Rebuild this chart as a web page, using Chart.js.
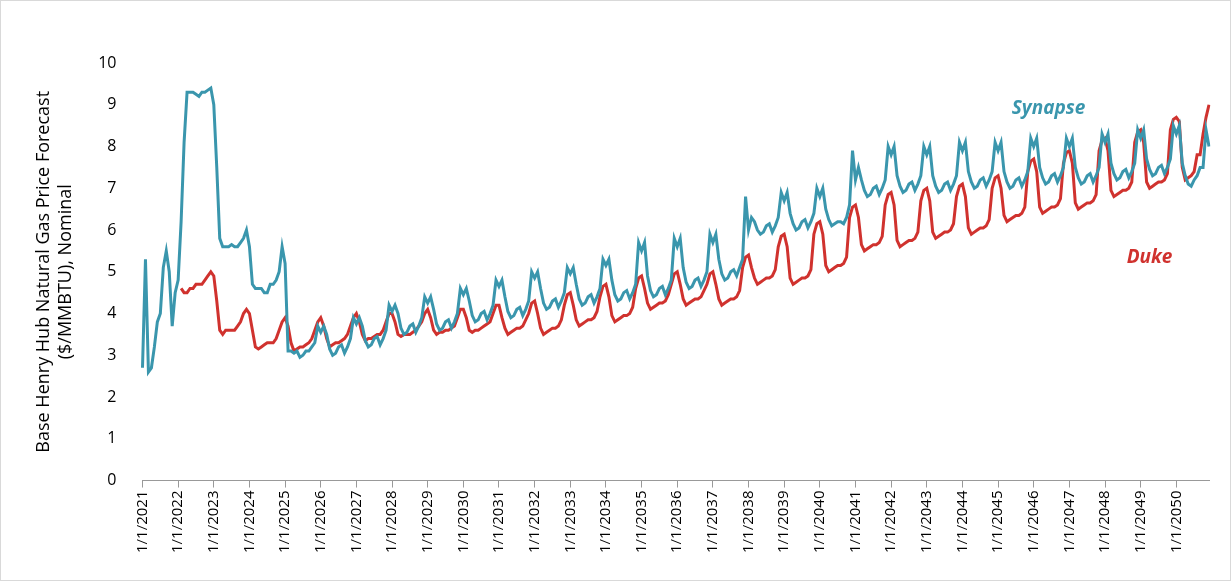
<!DOCTYPE html>
<html>
<head>
<meta charset="utf-8">
<script src="https://cdn.jsdelivr.net/npm/chart.js@4"></script>
<style>
  body { margin: 0; background: #fff; }
  #wrap { width: 1229px; height: 579px; border: 1px solid #d9d9d9; }
</style>
</head>
<body>
<div id="wrap"><canvas id="chart"></canvas></div>
<script>
// monthly values, Jan 2021 .. Dec 2050
const startYear = 2021;
const endYear = 2050;

const synapse = [
  2.7,5.3,2.6,2.7,3.2,3.8,4.0,5.1,5.5,5.0,3.7,4.5,
  4.8,6.2,8.1,9.3,9.3,9.3,9.25,9.2,9.3,9.3,9.35,9.4,
  9.0,7.5,5.8,5.6,5.6,5.6,5.65,5.6,5.6,5.7,5.8,6.0,
  5.6,4.7,4.6,4.6,4.6,4.5,4.5,4.7,4.7,4.8,5.0,5.6,
  5.2,3.1,3.1,3.05,3.1,2.95,3.0,3.1,3.1,3.2,3.3,3.7,
  3.55,3.7,3.5,3.15,3.0,3.05,3.2,3.25,3.05,3.2,3.4,3.9,
  3.75,3.9,3.7,3.35,3.2,3.25,3.4,3.45,3.25,3.4,3.6,4.2,
  4.05,4.2,4.0,3.65,3.5,3.55,3.7,3.75,3.55,3.7,3.9,4.4,
  4.25,4.4,4.1,3.75,3.6,3.65,3.8,3.85,3.65,3.8,4.0,4.6,
  4.45,4.6,4.3,3.95,3.8,3.85,4.0,4.05,3.85,4.0,4.2,4.8,
  4.65,4.8,4.4,4.05,3.9,3.95,4.1,4.15,3.95,4.1,4.3,5.0,
  4.85,5.0,4.6,4.25,4.1,4.15,4.3,4.35,4.15,4.3,4.5,5.1,
  4.95,5.1,4.7,4.35,4.2,4.25,4.4,4.45,4.25,4.4,4.6,5.3,
  5.15,5.3,4.8,4.45,4.3,4.35,4.5,4.55,4.35,4.5,4.7,5.7,
  5.5,5.7,4.9,4.55,4.4,4.45,4.6,4.65,4.45,4.6,4.8,5.8,
  5.6,5.8,5.1,4.75,4.6,4.65,4.8,4.85,4.65,4.8,5.0,5.9,
  5.7,5.9,5.3,4.95,4.8,4.85,5.0,5.05,4.9,5.1,5.3,6.8,
  6.0,6.3,6.2,6.0,5.9,5.95,6.1,6.15,5.95,6.1,6.3,6.9,
  6.7,6.9,6.4,6.15,6.0,6.05,6.2,6.25,6.05,6.2,6.4,7.0,
  6.8,7.0,6.5,6.25,6.1,6.15,6.2,6.2,6.15,6.3,6.6,7.9,
  7.2,7.5,7.2,6.95,6.8,6.85,7.0,7.05,6.85,7.0,7.2,8.0,
  7.8,8.0,7.3,7.05,6.9,6.95,7.1,7.15,6.95,7.1,7.3,8.0,
  7.8,8.0,7.3,7.05,6.9,6.95,7.1,7.15,6.95,7.1,7.3,8.1,
  7.9,8.1,7.4,7.15,7.0,7.05,7.2,7.25,7.05,7.2,7.4,8.1,
  7.9,8.1,7.4,7.15,7.0,7.05,7.2,7.25,7.05,7.2,7.4,8.2,
  8.0,8.2,7.5,7.25,7.1,7.15,7.3,7.35,7.15,7.3,7.5,8.2,
  8.0,8.2,7.5,7.25,7.1,7.15,7.3,7.35,7.15,7.3,7.5,8.3,
  8.1,8.3,7.6,7.35,7.2,7.25,7.4,7.45,7.25,7.4,7.6,8.4,
  8.2,8.4,7.7,7.45,7.3,7.35,7.5,7.55,7.35,7.5,7.7,8.5,
  8.3,8.5,7.6,7.3,7.1,7.05,7.2,7.3,7.5,7.5,8.4,8.0
];

const duke = [
  null,null,null,null,null,null,null,null,null,null,null,null,
  null,4.6,4.5,4.5,4.6,4.6,4.7,4.7,4.7,4.8,4.9,5.0,
  4.9,4.3,3.6,3.5,3.6,3.6,3.6,3.6,3.7,3.8,4.0,4.1,
  4.0,3.6,3.2,3.15,3.2,3.25,3.3,3.3,3.3,3.4,3.6,3.8,
  3.9,3.7,3.3,3.1,3.15,3.2,3.2,3.25,3.3,3.4,3.6,3.8,
  3.9,3.7,3.4,3.2,3.25,3.3,3.3,3.35,3.4,3.5,3.7,3.9,
  4.0,3.8,3.5,3.35,3.4,3.4,3.45,3.5,3.5,3.6,3.8,4.0,
  4.0,3.8,3.5,3.45,3.5,3.5,3.5,3.55,3.6,3.7,3.8,4.0,
  4.1,3.9,3.6,3.5,3.55,3.55,3.6,3.6,3.65,3.7,3.9,4.1,
  4.1,3.9,3.6,3.55,3.6,3.6,3.65,3.7,3.75,3.8,4.0,4.2,
  4.2,3.9,3.65,3.5,3.55,3.6,3.65,3.65,3.7,3.85,4.0,4.25,
  4.3,4.0,3.65,3.5,3.55,3.6,3.65,3.65,3.7,3.85,4.2,4.45,
  4.5,4.2,3.85,3.7,3.75,3.8,3.85,3.85,3.9,4.05,4.4,4.65,
  4.7,4.4,3.95,3.8,3.85,3.9,3.95,3.95,4.0,4.15,4.6,4.85,
  4.9,4.6,4.25,4.1,4.15,4.2,4.25,4.25,4.3,4.45,4.7,4.95,
  5.0,4.7,4.35,4.2,4.25,4.3,4.35,4.35,4.4,4.55,4.7,4.95,
  5.0,4.7,4.35,4.2,4.25,4.3,4.35,4.35,4.4,4.55,5.1,5.35,
  5.4,5.1,4.85,4.7,4.75,4.8,4.85,4.85,4.9,5.05,5.6,5.85,
  5.9,5.6,4.85,4.7,4.75,4.8,4.85,4.85,4.9,5.05,5.9,6.15,
  6.2,5.9,5.15,5.0,5.05,5.1,5.15,5.15,5.2,5.35,6.3,6.55,
  6.6,6.3,5.65,5.5,5.55,5.6,5.65,5.65,5.7,5.85,6.6,6.85,
  6.9,6.6,5.75,5.6,5.65,5.7,5.75,5.75,5.8,5.95,6.7,6.95,
  7.0,6.7,5.95,5.8,5.85,5.9,5.95,5.95,6.0,6.15,6.8,7.05,
  7.1,6.8,6.05,5.9,5.95,6.0,6.05,6.05,6.1,6.25,7.0,7.25,
  7.3,7.0,6.35,6.2,6.25,6.3,6.35,6.35,6.4,6.55,7.4,7.65,
  7.7,7.4,6.55,6.4,6.45,6.5,6.55,6.55,6.6,6.75,7.6,7.85,
  7.9,7.6,6.65,6.5,6.55,6.6,6.65,6.65,6.7,6.85,7.9,8.15,
  8.2,7.9,6.95,6.8,6.85,6.9,6.95,6.95,7.0,7.15,8.1,8.35,
  8.4,8.1,7.15,7.0,7.05,7.1,7.15,7.15,7.2,7.35,8.4,8.65,
  8.7,8.6,7.5,7.2,7.25,7.3,7.4,7.8,7.8,8.3,8.7,9.0
];

const yTicks = [0,1,2,3,4,5,6,7,8,9,10];
const seriesNames = ['Synapse', 'Duke'];

const labels = [];
for (let y = startYear; y <= endYear; y++) {
    for (let m = 1; m <= 12; m++) labels.push(m + '/1/' + y);
}
const isJan = i => labels[i] && labels[i].startsWith('1/1/');

// series names written next to the lines
const seriesText = {
    id: 'seriesText',
    afterDatasetsDraw(chart) {
        const { ctx, scales } = chart;
        ctx.save();
        ctx.font = 'italic bold 19px "Open Sans"';
        ctx.textAlign = 'center';
        ctx.textBaseline = 'middle';
        ctx.fillStyle = '#3A96AD';
        ctx.fillText(seriesNames[0], scales.x.getPixelForValue(labels.indexOf('6/1/2046')), scales.y.getPixelForValue(8.9));
        ctx.fillStyle = '#D0322E';
        ctx.fillText(seriesNames[1], scales.x.getPixelForValue(labels.indexOf('4/1/2049')), scales.y.getPixelForValue(5.35));
        ctx.restore();
    }
};

new Chart(document.getElementById('chart'), {
    type: 'line',
    data: {
        labels: labels,
        datasets: [
            { label: seriesNames[0], data: synapse, borderColor: '#3A96AD', borderWidth: 3, pointRadius: 0, tension: 0 },
            { label: seriesNames[1], data: duke, borderColor: '#D0322E', borderWidth: 3, pointRadius: 0, tension: 0 }
        ]
    },
    options: {
        responsive: true,
        maintainAspectRatio: false,
        animation: false,
        layout: { padding: { top: 62, right: 0, left: 28, bottom: 24 } },
        plugins: { legend: { display: false }, tooltip: { enabled: false } },
        scales: {
            x: {
                offset: false,
                grid: {
                    drawOnChartArea: false,
                    tickLength: 7,
                    color: c => isJan(c.index) ? '#999' : 'rgba(0,0,0,0)'
                },
                border: { color: '#999' },
                ticks: {
                    autoSkip: false,
                    maxRotation: 90,
                    minRotation: 90,
                    color: '#000',
                    font: { family: '"Open Sans"', size: 15 },
                    callback: (v, i) => isJan(i) ? labels[i] : ''
                }
            },
            y: {
                min: 0,
                max: 10,
                afterBuildTicks: axis => { axis.ticks = yTicks.map(v => ({ value: v })); },
                grid: { display: false },
                border: { display: false },
                ticks: { color: '#000', padding: 18, font: { family: '"Open Sans"', size: 16 } },
                title: {
                    display: true,
                    text: ['Base Henry Hub Natural Gas Price Forecast', '($/MMBTU), Nominal'],
                    color: '#000',
                    font: { family: '"Open Sans"', size: 18 }
                }
            }
        }
    },
    plugins: [seriesText]
});
</script>
</body>
</html>
